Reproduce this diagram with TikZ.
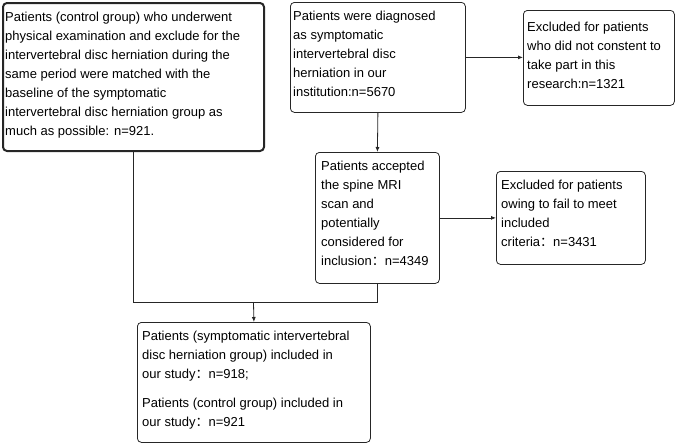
\documentclass[tikz,border=0pt]{standalone}
\usepackage{fontspec}
\setmainfont{Liberation Sans}
\newfontfamily\cjkfont{Noto Sans CJK SC}
\usetikzlibrary{arrows.meta}
\newcommand{\fwc}{{\cjkfont ：}}
\begin{document}
\begin{tikzpicture}[x=1pt,y=-1pt,
  box/.style={draw=black!85, line width=0.8pt, rounded corners=4pt, anchor=north west, inner sep=0pt},
  txt/.style={anchor=north west, inner sep=0pt, align=left, font=\fontsize{13}{19}\selectfont},
  conn/.style={draw=black!85, line width=0.8pt},
  arr/.style={conn, -{Latex[length=5pt,width=4pt]}}]
\useasboundingbox (0,0) rectangle (685,445);
% boxes
\node[box, line width=2pt, minimum width=261pt, minimum height=148pt] (a) at (2,2) {};
\node[box, minimum width=175pt, minimum height=110pt] (b) at (290,2) {};
\node[box, minimum width=151pt, minimum height=95pt] (c) at (523,10) {};
\node[box, minimum width=124pt, minimum height=131pt] (d) at (315,152) {};
\node[box, minimum width=149pt, minimum height=93pt] (e) at (496,171) {};
\node[box, minimum width=233pt, minimum height=120pt] (f) at (137,322) {};
% texts
\node[txt] (ta) at (5,11.5) {Patients (control group) who underwent\\physical examination and exclude for the\\intervertebral disc herniation during the\\same period were matched with the\\baseline of the symptomatic\\intervertebral disc herniation group as\\much as possible: n=921.};
\node[txt] (tb) at (293,11) {Patients were diagnosed\\as symptomatic\\intervertebral disc\\herniation in our\\institution:n=5670};
\node[txt] (tc) at (527,22) {Excluded for patients\\who did not constent to\\take part in this\\research:n=1321};
\node[txt] (td) at (321,161) {Patients accepted\\the spine MRI\\scan and\\potentially\\considered for\\inclusion\fwc n=4349};
\node[txt] (te) at (501,180) {Excluded for patients\\owing to fail to meet\\included\\criteria\fwc n=3431};
\node[txt] (tf) at (142,331) {Patients (symptomatic intervertebral\\disc herniation group) included in\\our study\fwc n=918;\\[10pt]Patients (control group) included in\\our study\fwc n=921};
% connectors
\coordinate (j) at (253.5,302);
\draw[arr] (b.east) -- (c.west |- b.east);
\draw[arr] (b.south) -- (d.north);
\draw[arr] (d.east) -- (e.west |- d.east);
\draw[conn] (a.south) -- (a.south |- j) -- (d.south |- j) -- (d.south);
\draw[arr] (j) -- (f.north);
\end{tikzpicture}
\end{document}
